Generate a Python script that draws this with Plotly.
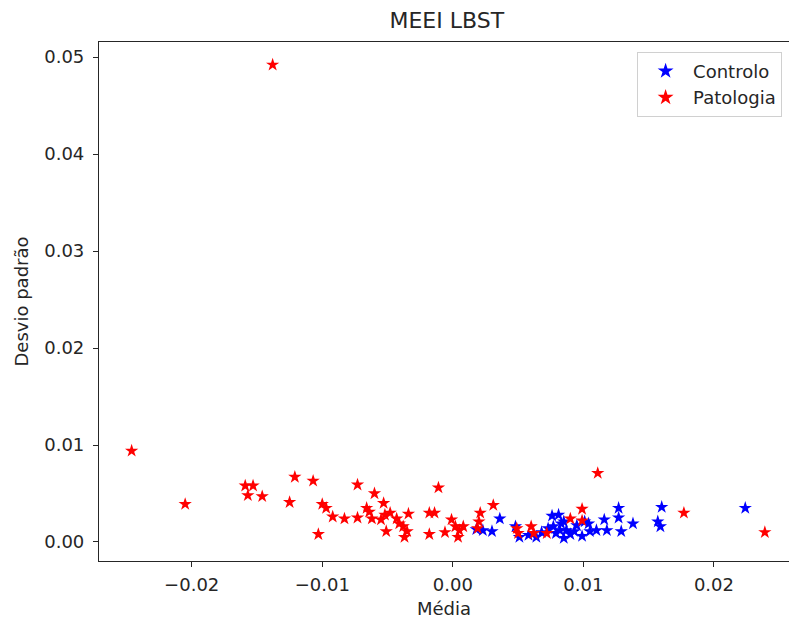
import plotly.graph_objects as go

# Controlo (blue)
controlo_x = [0.0018, 0.0023, 0.0030, 0.0036, 0.0048, 0.0051, 0.0058, 0.0064, 0.0068, 0.0073,
              0.0076, 0.0081, 0.0077, 0.0083, 0.0079, 0.0087, 0.0085, 0.0085, 0.0082, 0.0093,
              0.0095, 0.0099, 0.0101, 0.0104, 0.0105, 0.0110, 0.0116, 0.0118, 0.0127, 0.0127,
              0.0129, 0.0138, 0.0160, 0.0157, 0.0159, 0.0224, 0.0090]
controlo_y = [0.0013, 0.0012, 0.0011, 0.0024, 0.0016, 0.0005, 0.0007, 0.0005, 0.0010, 0.0014,
              0.0027, 0.0028, 0.0016, 0.0019, 0.0009, 0.0012, 0.0004, 0.0021, 0.0012, 0.0011,
              0.0017, 0.0006, 0.0021, 0.0019, 0.0011, 0.0012, 0.0023, 0.0012, 0.0035, 0.0025,
              0.0011, 0.0019, 0.0036, 0.0021, 0.0016, 0.0035, 0.0008]

# Patologia (red)
patologia_x = [-0.0246, -0.0205, -0.0138, -0.0159, -0.0153, -0.0157, -0.0146, -0.0125, -0.0121, -0.0107,
               -0.0103, -0.0100, -0.0097, -0.0092, -0.0083, -0.0073, -0.0073, -0.0066, -0.0064, -0.0060,
               -0.0062, -0.0053, -0.0052, -0.0055, -0.0048, -0.0051, -0.0041, -0.0038, -0.0037, -0.0034,
               -0.0035, -0.0043, -0.0018, -0.0014, -0.0018, -0.0011, -0.0006, -0.0001, 0.0002, 0.0005,
               0.0004, 0.0008, 0.0021, 0.0020, 0.0019, 0.0031, 0.0049, 0.0050, 0.0060, 0.0062,
               0.0072, 0.0090, 0.0099, 0.0099, 0.0111, 0.0177, 0.0239]
patologia_y = [0.0094, 0.0039, 0.0492, 0.0058, 0.0058, 0.0048, 0.0047, 0.0041, 0.0067, 0.0063,
               0.0008, 0.0039, 0.0035, 0.0026, 0.0024, 0.0059, 0.0025, 0.0035, 0.0031, 0.0050,
               0.0024, 0.0040, 0.0028, 0.0023, 0.0030, 0.0011, 0.0019, 0.0016, 0.0005, 0.0029,
               0.0011, 0.0024, 0.0030, 0.0030, 0.0008, 0.0056, 0.0010, 0.0023, 0.0016, 0.0012,
               0.0005, 0.0016, 0.0030, 0.0021, 0.0014, 0.0038, 0.0014, 0.0009, 0.0016, 0.0009,
               0.0009, 0.0024, 0.0034, 0.0022, 0.0071, 0.0030, 0.0010]

x_ticks = [-0.02, -0.01, 0.0, 0.01, 0.02]
x_ticklabels = ["\u22120.02", "\u22120.01", "0.00", "0.01", "0.02"]
y_ticks = [0.0, 0.01, 0.02, 0.03, 0.04, 0.05]
y_ticklabels = ["0.00", "0.01", "0.02", "0.03", "0.04", "0.05"]

font = "DejaVu Sans"
txt = "#262626"
fig = go.Figure()
fig.add_trace(go.Scatter(x=controlo_x, y=controlo_y, mode="markers", name="Controlo",
                         marker=dict(symbol="star", size=10, color="#0000ff", line=dict(width=0))))
fig.add_trace(go.Scatter(x=patologia_x, y=patologia_y, mode="markers", name="Patologia",
                         marker=dict(symbol="star", size=10, color="#ff0000", line=dict(width=0))))

fig.update_layout(
    width=789, height=619,
    margin=dict(l=99, r=0, t=42, b=58),
    paper_bgcolor="white", plot_bgcolor="white",
    font=dict(family=font, size=18, color=txt),
    title=dict(text="MEEI LBST", xref="paper", x=0.504, xanchor="center", y=0.967, yanchor="middle",
               font=dict(family=font, size=22, color=txt)),
    showlegend=True,
    legend=dict(x=0.99, y=0.981, xanchor="right", yanchor="top",
                bgcolor="rgba(255,255,255,0.8)", bordercolor="#d0d0d0", borderwidth=1,
                font=dict(family=font, size=18, color=txt),
                itemsizing="constant", itemwidth=45, tracegroupgap=0),
    xaxis=dict(range=[-0.0271, 0.02575], tickvals=x_ticks, ticktext=x_ticklabels,
               showgrid=False, zeroline=False, showline=True, linecolor=txt, linewidth=1.2,
               mirror=True, ticks="outside", ticklen=5, tickcolor=txt, ticklabelstandoff=2,
               title=dict(text="Média", font=dict(family=font, size=18, color=txt), standoff=8),
               tickfont=dict(family=font, size=18, color=txt)),
    yaxis=dict(range=[-0.00196, 0.05155], tickvals=y_ticks, ticktext=y_ticklabels,
               showgrid=False, zeroline=False, showline=True, linecolor=txt, linewidth=1.2,
               mirror=False, ticks="outside", ticklen=5, tickcolor=txt, ticklabelstandoff=5,
               title=dict(text="Desvio padrão", font=dict(family=font, size=18, color=txt), standoff=10),
               tickfont=dict(family=font, size=18, color=txt)),
)

fig.write_html("out.html")
